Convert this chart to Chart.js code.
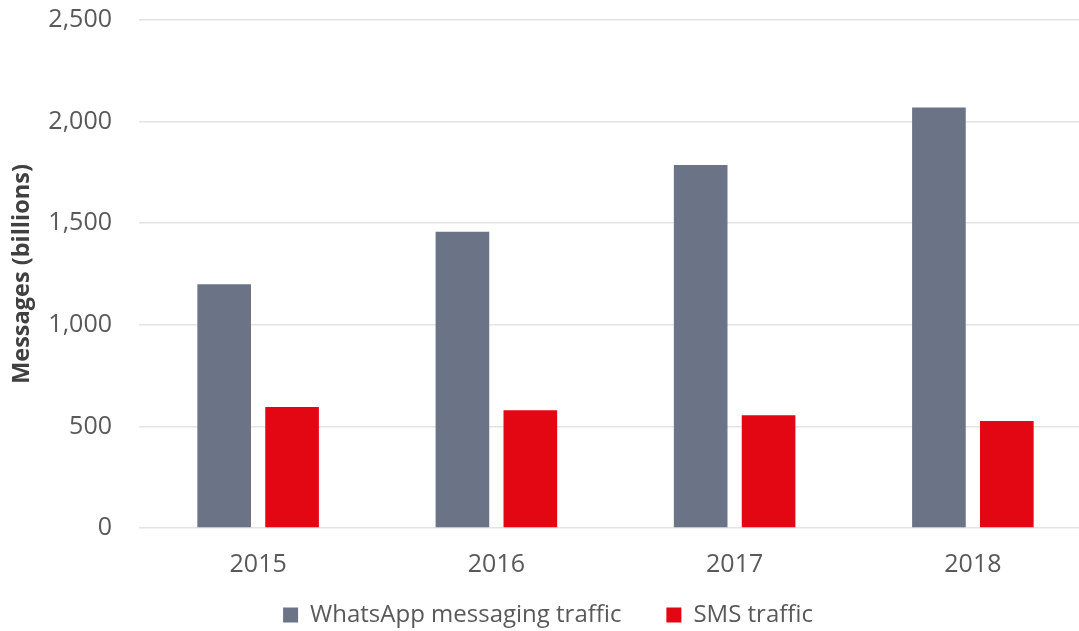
<!DOCTYPE html>
<html>
<head>
<meta charset="utf-8">
<script src="https://cdn.jsdelivr.net/npm/chart.js@4/dist/chart.umd.min.js"></script>
<style>
  html, body { margin: 0; padding: 0; background: #fff; overflow: hidden; }
  #wrap { width: 1079px; height: 631px; overflow: hidden; }
  #box { width: 1092px; height: 637px; }
</style>
</head>
<body>
<div id="wrap"><div id="box"><canvas id="chart"></canvas></div></div>
<script>
const years = ["2015", "2016", "2017", "2018"];
const whatsapp = [1200, 1458, 1786, 2070];
const sms = [595, 580, 555, 527];
const yTicks = [0, 500, 1000, 1500, 2000, 2500];

const textColor = "#595959";

new Chart(document.getElementById("chart"), {
    type: "bar",
    data: {
        labels: years,
        datasets: [
            {
                label: "WhatsApp messaging traffic",
                data: whatsapp,
                backgroundColor: "#6b7386",
            },
            {
                label: "SMS traffic",
                data: sms,
                backgroundColor: "#e30613",
            },
        ],
    },
    options: {
        responsive: true,
        maintainAspectRatio: false,
        animation: false,
        layout: { padding: { top: 20, left: 4, right: 0, bottom: 0 } },
        datasets: {
            bar: { categoryPercentage: 0.57, barPercentage: 0.79 },
        },
        plugins: {
            tooltip: { enabled: false },
            legend: {
                position: "bottom",
                labels: {
                    color: textColor,
                    font: { family: "Open Sans", size: 24 },
                    boxWidth: 15,
                    boxHeight: 15,
                    padding: 20,
                    // wider gap between the two legend entries
                    generateLabels: (chart) => {
                        const items = Chart.defaults.plugins.legend.labels.generateLabels(chart);
                        items[0].text = items[0].text + "    ";
                        return items;
                    },
                },
            },
        },
        scales: {
            x: {
                afterFit: (scale) => { scale.height = 55; },
                grid: { display: false, drawTicks: false },
                border: { display: false },
                ticks: {
                    color: textColor,
                    font: { family: "Open Sans", size: 25 },
                    padding: 22,
                },
            },
            y: {
                min: 0,
                max: 2500,
                afterBuildTicks: (scale) => {
                    scale.ticks = yTicks.map(v => ({ value: v }));
                },
                afterFit: (scale) => {
                    scale.width = 135;
                    scale.paddingTop = 0;
                    scale.paddingBottom = 0;
                },
                grid: { color: "#e3e3e3", lineWidth: 1.5, drawTicks: false },
                border: { display: false },
                ticks: {
                    color: textColor,
                    font: { family: "Open Sans", size: 25 },
                    padding: 27,
                    callback: (v) => v.toLocaleString("en-US"),
                },
                title: {
                    display: true,
                    text: "Messages (billions)",
                    color: "#404040",
                    font: { family: "Open Sans", size: 23.5, weight: "bold" },
                    padding: { top: 4, bottom: 0 },
                },
            },
        },
    },
});
</script>
</body>
</html>
